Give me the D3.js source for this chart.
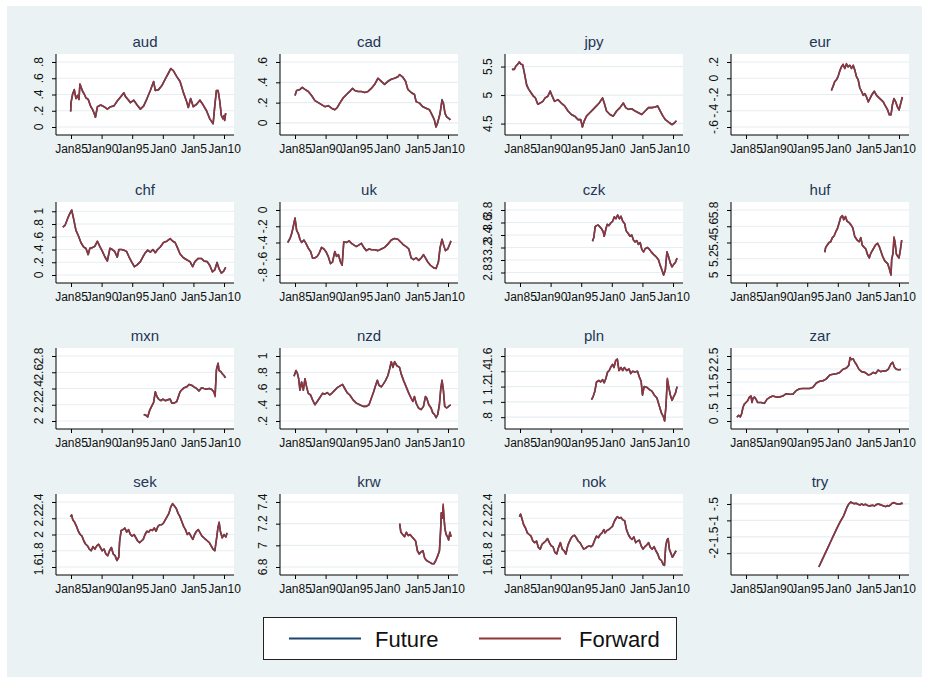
<!DOCTYPE html>
<html><head><meta charset="utf-8">
<script src="https://cdn.jsdelivr.net/npm/d3@7"></script>
<style>body{margin:0;background:#fff;} svg{display:block;font-family:"Liberation Sans",Arial,sans-serif;}</style>
</head><body><svg id="chart" width="928" height="682"></svg>
<script>
// ---------- categories / labels ----------
const currencies = ["aud","cad","jpy","eur","chf","uk","czk","huf","mxn","nzd","pln","zar","sek","krw","nok","try"];
const seriesNames = ["Future","Forward"];
const seriesColors = ["#1a476f","#90353b"];
const xTickYears = [1985,1990,1995,2000,2005,2010];
const xTickLabels = ["Jan85","Jan90","Jan95","Jan0","Jan5","Jan10"];
const xDomain = [1982.55, 2011.63];

// ---------- y ticks per panel ----------
const audTicks=[0,.2,.4,.6,.8], cadTicks=[0,.2,.4,.6], jpyTicks=[4.5,5,5.5], eurTicks=[-.6,-.4,-.2,0,.2];
const chfTicks=[0,.2,.4,.6,.8,1], ukTicks=[-.8,-.6,-.4,-.2,0], czkTicks=[2.8,3,3.2,3.4,3.6,3.8], hufTicks=[5,5.2,5.4,5.6,5.8];
const mxnTicks=[2,2.2,2.4,2.6,2.8], nzdTicks=[.2,.4,.6,.8,1], plnTicks=[.8,1,1.2,1.4,1.6], zarTicks=[0,.5,1,1.5,2,2.5];
const sekTicks=[1.6,1.8,2,2.2,2.4], krwTicks=[6.8,7,7.2,7.4], nokTicks=[1.6,1.8,2,2.2,2.4], tryTicks=[-2,-1.5,-1,-.5];

// ---------- series: [year, Future, Forward] ----------
const audData=[[1984.95,0.19,0.19],[1985.0,0.30,0.30],[1985.27,0.41,0.40],[1985.54,0.46,0.46],[1985.81,0.35,0.35],[1986.08,0.39,0.39],[1986.3,0.34,0.34],[1986.46,0.53,0.53],[1986.89,0.44,0.44],[1987.2,0.40,0.40],[1987.43,0.36,0.36],[1987.81,0.34,0.34],[1988.24,0.25,0.25],[1988.5,0.22,0.22],[1988.78,0.17,0.17],[1988.99,0.12,0.12],[1989.32,0.25,0.25],[1989.86,0.27,0.27],[1990.4,0.25,0.25],[1990.94,0.22,0.22],[1991.48,0.25,0.25],[1992.02,0.26,0.26],[1992.56,0.32,0.32],[1993.1,0.37,0.37],[1993.64,0.42,0.42],[1993.9,0.37,0.38],[1994.18,0.35,0.35],[1994.72,0.30,0.30],[1995.26,0.33,0.33],[1995.8,0.27,0.27],[1996.34,0.22,0.22],[1996.88,0.26,0.26],[1997.42,0.35,0.35],[1997.96,0.45,0.45],[1998.5,0.56,0.56],[1998.77,0.45,0.45],[1999.31,0.46,0.46],[1999.85,0.51,0.51],[2000.39,0.59,0.59],[2000.93,0.66,0.67],[2001.31,0.72,0.72],[2001.74,0.69,0.69],[2002.28,0.62,0.62],[2002.82,0.56,0.56],[2003.36,0.42,0.43],[2003.9,0.31,0.31],[2004.17,0.24,0.24],[2004.55,0.35,0.35],[2004.98,0.25,0.25],[2005.52,0.28,0.28],[2006.06,0.33,0.33],[2006.6,0.27,0.27],[2007.14,0.20,0.20],[2007.68,0.10,0.10],[2008.22,0.04,0.04],[2008.49,0.26,0.26],[2008.76,0.45,0.45],[2009.03,0.45,0.45],[2009.3,0.32,0.32],[2009.57,0.14,0.14],[2009.84,0.10,0.10],[2010.0,0.14,0.14],[2010.11,0.08,0.08],[2010.27,0.17,0.17]];
const cadData=[[1985.0,0.27,0.27],[1985.27,0.32,0.32],[1985.81,0.33,0.33],[1986.19,0.35,0.35],[1986.63,0.33,0.33],[1987.17,0.31,0.31],[1987.71,0.27,0.27],[1988.25,0.22,0.22],[1988.8,0.20,0.20],[1989.34,0.18,0.18],[1989.88,0.16,0.16],[1990.42,0.17,0.17],[1990.97,0.145,0.145],[1991.51,0.13,0.13],[1991.89,0.15,0.15],[1992.32,0.195,0.195],[1992.86,0.245,0.245],[1993.41,0.28,0.28],[1993.95,0.31,0.31],[1994.38,0.34,0.34],[1994.76,0.32,0.32],[1995.3,0.31,0.31],[1995.85,0.31,0.31],[1996.39,0.30,0.30],[1996.93,0.31,0.31],[1997.47,0.34,0.34],[1998.02,0.38,0.38],[1998.56,0.44,0.44],[1999.1,0.41,0.41],[1999.64,0.38,0.38],[2000.18,0.41,0.41],[2000.73,0.43,0.43],[2001.27,0.44,0.44],[2001.81,0.455,0.455],[2002.08,0.475,0.475],[2002.62,0.45,0.45],[2003.06,0.41,0.41],[2003.44,0.33,0.33],[2003.98,0.30,0.30],[2004.52,0.28,0.28],[2004.79,0.21,0.21],[2005.34,0.195,0.195],[2005.88,0.16,0.16],[2006.42,0.145,0.145],[2006.96,0.13,0.13],[2007.39,0.08,0.08],[2007.77,0.03,0.03],[2008.04,-0.04,-0.04],[2008.31,0.003,0.003],[2008.69,0.09,0.09],[2009.02,0.23,0.22],[2009.24,0.195,0.195],[2009.51,0.095,0.095],[2009.78,0.06,0.06],[2010.22,0.04,0.04],[2010.38,0.03,0.03]];
const jpyData=[[1983.68,5.45,5.45],[1984.07,5.45,5.45],[1984.34,5.51,5.51],[1984.62,5.54,5.54],[1984.89,5.58,5.58],[1985.16,5.54,5.54],[1985.44,5.53,5.53],[1985.71,5.39,5.39],[1986.1,5.18,5.16],[1986.43,5.10,5.10],[1986.81,5.04,5.04],[1987.19,4.98,4.98],[1987.52,4.95,4.95],[1987.91,4.84,4.84],[1988.29,4.86,4.86],[1988.73,4.89,4.89],[1989.11,4.95,4.95],[1989.55,4.98,4.98],[1989.93,5.07,5.07],[1990.26,4.98,4.98],[1990.65,4.89,4.89],[1991.2,4.92,4.92],[1991.74,4.86,4.86],[1992.29,4.81,4.81],[1992.84,4.72,4.72],[1993.39,4.66,4.66],[1993.94,4.63,4.63],[1994.48,4.57,4.57],[1994.92,4.57,4.57],[1995.2,4.44,4.44],[1995.47,4.54,4.54],[1995.86,4.63,4.63],[1996.4,4.69,4.69],[1996.95,4.75,4.75],[1997.5,4.81,4.81],[1997.94,4.86,4.86],[1998.49,4.95,4.95],[1998.76,4.86,4.86],[1999.14,4.72,4.72],[1999.69,4.66,4.66],[2000.24,4.63,4.63],[2000.79,4.72,4.72],[2001.34,4.78,4.78],[2001.89,4.86,4.86],[2002.27,4.78,4.78],[2002.71,4.75,4.75],[2003.26,4.76,4.76],[2003.8,4.72,4.72],[2004.35,4.69,4.69],[2004.9,4.66,4.66],[2005.45,4.72,4.72],[2006.0,4.78,4.78],[2006.55,4.78,4.78],[2007.09,4.79,4.79],[2007.48,4.81,4.81],[2007.92,4.72,4.72],[2008.36,4.63,4.63],[2008.74,4.57,4.57],[2009.12,4.54,4.54],[2009.45,4.51,4.51],[2009.84,4.48,4.48],[2010.22,4.51,4.51],[2010.55,4.55,4.55]];
const eurData=[[1998.95,-0.15,-0.15],[1999.22,-0.10,-0.10],[1999.5,-0.04,-0.04],[1999.77,-0.02,-0.02],[2000.04,0.02,0.02],[2000.32,0.09,0.09],[2000.59,0.14,0.14],[2000.86,0.17,0.17],[2001.14,0.12,0.12],[2001.41,0.17,0.18],[2001.68,0.14,0.14],[2001.96,0.16,0.16],[2002.23,0.12,0.12],[2002.51,0.16,0.16],[2002.78,0.10,0.10],[2003.05,0.02,0.02],[2003.33,-0.02,-0.02],[2003.6,-0.12,-0.12],[2003.87,-0.16,-0.16],[2004.15,-0.21,-0.21],[2004.42,-0.19,-0.19],[2004.69,-0.23,-0.23],[2004.97,-0.29,-0.29],[2005.24,-0.25,-0.25],[2005.51,-0.21,-0.21],[2005.95,-0.16,-0.16],[2006.33,-0.21,-0.21],[2006.88,-0.25,-0.25],[2007.43,-0.29,-0.29],[2007.7,-0.33,-0.33],[2008.14,-0.39,-0.39],[2008.41,-0.45,-0.45],[2008.69,-0.45,-0.45],[2008.91,-0.33,-0.33],[2009.18,-0.25,-0.25],[2009.45,-0.29,-0.29],[2009.73,-0.35,-0.35],[2010.0,-0.39,-0.39],[2010.27,-0.31,-0.31],[2010.55,-0.23,-0.23]];
const chfData=[[1983.65,0.75,0.75],[1984.03,0.78,0.78],[1984.35,0.86,0.86],[1984.68,0.94,0.94],[1985.11,1.02,1.02],[1985.43,0.88,0.88],[1985.81,0.70,0.70],[1986.19,0.62,0.62],[1986.62,0.51,0.51],[1987.05,0.44,0.44],[1987.43,0.42,0.42],[1987.81,0.32,0.32],[1988.08,0.42,0.42],[1988.51,0.43,0.43],[1988.89,0.45,0.45],[1989.32,0.53,0.53],[1989.7,0.45,0.45],[1990.13,0.37,0.37],[1990.51,0.29,0.29],[1990.94,0.22,0.22],[1991.37,0.42,0.42],[1991.75,0.40,0.40],[1992.13,0.37,0.37],[1992.56,0.28,0.28],[1992.83,0.40,0.40],[1993.21,0.40,0.40],[1993.64,0.39,0.39],[1994.07,0.37,0.37],[1994.45,0.29,0.29],[1994.99,0.19,0.19],[1995.37,0.13,0.13],[1995.8,0.16,0.16],[1996.34,0.21,0.21],[1996.77,0.29,0.29],[1997.15,0.35,0.35],[1997.53,0.39,0.39],[1997.96,0.36,0.36],[1998.39,0.40,0.40],[1998.77,0.35,0.35],[1999.15,0.40,0.40],[1999.58,0.44,0.44],[2000.12,0.51,0.51],[2000.66,0.53,0.53],[2001.2,0.57,0.57],[2001.63,0.53,0.53],[2002.01,0.51,0.51],[2002.39,0.43,0.43],[2002.82,0.33,0.33],[2003.36,0.27,0.27],[2003.9,0.24,0.24],[2004.44,0.21,0.21],[2004.87,0.13,0.13],[2005.25,0.21,0.21],[2005.79,0.26,0.26],[2006.33,0.26,0.26],[2006.71,0.22,0.22],[2007.25,0.21,0.21],[2007.68,0.15,0.15],[2008.1,0.05,0.05],[2008.48,0.08,0.08],[2008.86,0.20,0.19],[2009.18,0.10,0.10],[2009.56,0.03,0.03],[2009.94,0.06,0.06],[2010.27,0.12,0.12]];
const ukData=[[1983.81,-0.40,-0.40],[1984.19,-0.35,-0.35],[1984.46,-0.29,-0.29],[1984.73,-0.20,-0.20],[1985.0,-0.10,-0.10],[1985.27,-0.25,-0.25],[1985.54,-0.29,-0.29],[1985.81,-0.36,-0.36],[1986.08,-0.40,-0.40],[1986.46,-0.37,-0.37],[1986.79,-0.41,-0.41],[1987.17,-0.47,-0.47],[1987.55,-0.51,-0.51],[1987.87,-0.59,-0.59],[1988.25,-0.59,-0.59],[1988.63,-0.57,-0.57],[1988.96,-0.53,-0.53],[1989.34,-0.46,-0.46],[1989.72,-0.48,-0.48],[1990.04,-0.51,-0.51],[1990.42,-0.57,-0.57],[1990.8,-0.66,-0.66],[1991.13,-0.64,-0.64],[1991.51,-0.51,-0.51],[1991.78,-0.57,-0.57],[1992.1,-0.55,-0.55],[1992.43,-0.64,-0.64],[1992.7,-0.68,-0.68],[1992.97,-0.39,-0.39],[1993.41,-0.40,-0.40],[1993.84,-0.38,-0.38],[1994.22,-0.41,-0.41],[1994.6,-0.43,-0.43],[1995.03,-0.45,-0.45],[1995.47,-0.43,-0.43],[1995.85,-0.41,-0.41],[1996.23,-0.46,-0.46],[1996.66,-0.50,-0.50],[1997.09,-0.48,-0.48],[1997.53,-0.49,-0.49],[1998.02,-0.49,-0.49],[1998.56,-0.50,-0.50],[1999.1,-0.48,-0.48],[1999.64,-0.46,-0.46],[2000.18,-0.42,-0.42],[2000.73,-0.37,-0.37],[2001.27,-0.35,-0.35],[2001.81,-0.36,-0.36],[2002.35,-0.40,-0.40],[2002.73,-0.43,-0.43],[2003.17,-0.45,-0.45],[2003.6,-0.48,-0.48],[2003.98,-0.59,-0.59],[2004.36,-0.61,-0.61],[2004.79,-0.59,-0.59],[2005.23,-0.62,-0.62],[2005.61,-0.59,-0.59],[2005.99,-0.55,-0.55],[2006.31,-0.59,-0.59],[2006.69,-0.64,-0.64],[2007.13,-0.68,-0.68],[2007.62,-0.71,-0.71],[2008.05,-0.72,-0.72],[2008.43,-0.64,-0.64],[2008.69,-0.47,-0.47],[2009.02,-0.36,-0.36],[2009.24,-0.42,-0.42],[2009.57,-0.50,-0.50],[2009.95,-0.48,-0.48],[2010.22,-0.43,-0.43],[2010.49,-0.38,-0.38]];
const czkData=[[1996.84,3.30,3.30],[1997.06,3.36,3.36],[1997.28,3.53,3.53],[1997.5,3.55,3.55],[1997.77,3.56,3.56],[1998.05,3.53,3.53],[1998.32,3.50,3.50],[1998.6,3.45,3.45],[1998.76,3.38,3.38],[1999.04,3.50,3.50],[1999.25,3.57,3.57],[1999.53,3.55,3.55],[1999.8,3.59,3.59],[2000.13,3.62,3.62],[2000.41,3.69,3.69],[2000.68,3.66,3.66],[2000.95,3.72,3.72],[2001.23,3.66,3.66],[2001.5,3.70,3.70],[2001.78,3.62,3.62],[2002.11,3.58,3.58],[2002.32,3.47,3.47],[2002.71,3.42,3.42],[2002.98,3.38,3.38],[2003.26,3.40,3.40],[2003.53,3.32,3.32],[2003.8,3.29,3.29],[2004.08,3.31,3.31],[2004.35,3.25,3.25],[2004.63,3.28,3.28],[2004.9,3.17,3.17],[2005.18,3.13,3.13],[2005.45,3.18,3.18],[2005.83,3.20,3.20],[2006.16,3.17,3.17],[2006.44,3.13,3.13],[2006.82,3.09,3.09],[2007.26,3.05,3.05],[2007.64,3.00,3.00],[2007.92,2.91,2.91],[2008.19,2.84,2.84],[2008.46,2.76,2.76],[2008.74,2.84,2.84],[2009.01,3.13,3.13],[2009.28,3.05,3.05],[2009.56,2.95,2.95],[2009.84,2.89,2.89],[2010.11,2.93,2.93],[2010.38,2.96,2.96],[2010.66,3.03,3.03]];
const hufData=[[1997.86,5.28,5.28],[1998.02,5.34,5.34],[1998.29,5.37,5.37],[1998.57,5.40,5.40],[1998.84,5.41,5.41],[1999.11,5.46,5.46],[1999.39,5.48,5.48],[1999.66,5.53,5.53],[1999.93,5.57,5.57],[2000.21,5.64,5.64],[2000.48,5.71,5.71],[2000.76,5.73,5.73],[2000.97,5.68,5.68],[2001.25,5.72,5.72],[2001.52,5.66,5.66],[2001.79,5.65,5.65],[2002.12,5.62,5.62],[2002.45,5.58,5.58],[2002.78,5.47,5.47],[2003.16,5.43,5.43],[2003.49,5.41,5.41],[2003.76,5.46,5.46],[2003.98,5.37,5.37],[2004.31,5.34,5.34],[2004.58,5.32,5.32],[2004.86,5.25,5.25],[2005.13,5.21,5.21],[2005.4,5.27,5.27],[2005.79,5.32,5.32],[2006.17,5.37,5.37],[2006.5,5.39,5.39],[2006.77,5.35,5.35],[2007.05,5.29,5.29],[2007.32,5.23,5.23],[2007.7,5.17,5.17],[2008.14,5.14,5.14],[2008.41,5.08,5.08],[2008.69,5.00,5.00],[2008.8,5.19,5.19],[2009.02,5.27,5.27],[2009.18,5.45,5.47],[2009.34,5.41,5.41],[2009.56,5.26,5.26],[2009.78,5.23,5.23],[2010.0,5.21,5.21],[2010.22,5.31,5.31],[2010.44,5.43,5.43]];
const mxnData=[[1996.88,2.08,2.08],[1997.26,2.07,2.07],[1997.53,2.05,2.05],[1997.85,2.13,2.13],[1998.23,2.19,2.19],[1998.5,2.23,2.23],[1998.77,2.36,2.36],[1999.04,2.30,2.30],[1999.31,2.27,2.27],[1999.69,2.25,2.25],[2000.01,2.27,2.27],[2000.39,2.25,2.25],[2000.77,2.26,2.26],[2001.2,2.27,2.27],[2001.47,2.22,2.22],[2001.85,2.22,2.22],[2002.28,2.24,2.24],[2002.55,2.30,2.30],[2002.82,2.36,2.36],[2003.2,2.39,2.39],[2003.47,2.41,2.41],[2003.9,2.42,2.42],[2004.33,2.45,2.45],[2004.71,2.44,2.44],[2005.09,2.42,2.42],[2005.52,2.40,2.40],[2005.9,2.37,2.37],[2006.33,2.41,2.41],[2006.71,2.40,2.40],[2007.14,2.39,2.39],[2007.57,2.40,2.40],[2007.95,2.39,2.39],[2008.33,2.36,2.36],[2008.54,2.32,2.30],[2008.76,2.63,2.63],[2009.03,2.71,2.71],[2009.19,2.62,2.62],[2009.46,2.61,2.61],[2009.73,2.58,2.58],[2010.0,2.56,2.56],[2010.22,2.53,2.53]];
const nzdData=[[1984.84,0.75,0.75],[1985.16,0.82,0.82],[1985.38,0.79,0.79],[1985.6,0.72,0.72],[1985.81,0.58,0.58],[1986.08,0.68,0.68],[1986.36,0.58,0.58],[1986.63,0.72,0.72],[1986.9,0.62,0.62],[1987.17,0.54,0.54],[1987.55,0.52,0.52],[1987.87,0.46,0.46],[1988.25,0.40,0.40],[1988.63,0.44,0.44],[1989.07,0.49,0.49],[1989.5,0.54,0.54],[1989.88,0.53,0.53],[1990.26,0.55,0.55],[1990.69,0.52,0.52],[1991.13,0.55,0.55],[1991.51,0.58,0.58],[1991.89,0.61,0.61],[1992.32,0.63,0.63],[1992.76,0.65,0.65],[1993.13,0.60,0.60],[1993.51,0.55,0.55],[1993.95,0.52,0.52],[1994.49,0.46,0.46],[1995.03,0.42,0.42],[1995.57,0.40,0.40],[1996.12,0.38,0.38],[1996.66,0.38,0.38],[1997.09,0.40,0.40],[1997.47,0.48,0.48],[1997.85,0.56,0.56],[1998.18,0.64,0.64],[1998.45,0.70,0.70],[1998.72,0.64,0.64],[1999.1,0.62,0.62],[1999.48,0.66,0.66],[1999.8,0.70,0.70],[2000.18,0.76,0.76],[2000.46,0.84,0.84],[2000.73,0.93,0.93],[2001.0,0.86,0.86],[2001.27,0.93,0.93],[2001.65,0.88,0.88],[2002.08,0.86,0.86],[2002.35,0.78,0.78],[2002.73,0.70,0.70],[2003.17,0.62,0.62],[2003.6,0.54,0.54],[2003.98,0.48,0.48],[2004.25,0.44,0.44],[2004.52,0.50,0.50],[2004.79,0.42,0.42],[2005.17,0.36,0.36],[2005.61,0.34,0.34],[2005.99,0.38,0.38],[2006.31,0.50,0.50],[2006.53,0.48,0.48],[2006.86,0.40,0.40],[2007.23,0.36,0.36],[2007.51,0.30,0.30],[2007.78,0.28,0.28],[2008.05,0.24,0.24],[2008.32,0.28,0.28],[2008.59,0.40,0.40],[2008.81,0.60,0.58],[2009.02,0.70,0.70],[2009.24,0.58,0.58],[2009.46,0.38,0.38],[2009.78,0.36,0.36],[2010.11,0.38,0.38],[2010.43,0.40,0.40]];
const plnData=[[1996.68,1.03,1.03],[1996.95,1.07,1.07],[1997.23,1.14,1.14],[1997.5,1.26,1.26],[1997.88,1.28,1.28],[1998.16,1.26,1.26],[1998.49,1.29,1.29],[1998.76,1.25,1.25],[1999.04,1.31,1.31],[1999.31,1.39,1.39],[1999.58,1.41,1.41],[1999.86,1.46,1.46],[2000.13,1.49,1.49],[2000.35,1.45,1.45],[2000.63,1.54,1.54],[2000.9,1.56,1.56],[2001.17,1.41,1.41],[2001.5,1.45,1.45],[2001.78,1.41,1.41],[2002.05,1.45,1.45],[2002.43,1.41,1.41],[2002.82,1.43,1.43],[2003.09,1.37,1.37],[2003.42,1.40,1.40],[2003.8,1.39,1.39],[2004.19,1.40,1.40],[2004.52,1.32,1.32],[2004.79,1.27,1.27],[2005.01,1.09,1.09],[2005.28,1.20,1.20],[2005.72,1.19,1.19],[2006.16,1.16,1.16],[2006.55,1.14,1.14],[2006.93,1.09,1.09],[2007.37,1.05,1.05],[2007.75,0.95,0.95],[2008.08,0.86,0.86],[2008.46,0.80,0.80],[2008.63,0.75,0.75],[2008.85,0.95,0.95],[2009.07,1.29,1.31],[2009.29,1.20,1.20],[2009.56,1.09,1.09],[2009.84,1.02,1.02],[2010.11,1.07,1.07],[2010.38,1.11,1.11],[2010.66,1.20,1.20]];
const zarData=[[1983.52,0.14,0.14],[1983.8,0.22,0.22],[1984.07,0.16,0.16],[1984.29,0.28,0.28],[1984.51,0.53,0.53],[1984.73,0.65,0.65],[1985.0,0.71,0.71],[1985.27,0.78,0.78],[1985.55,0.92,0.92],[1985.82,0.96,0.96],[1985.98,0.71,0.71],[1986.15,0.88,0.88],[1986.37,0.92,0.92],[1986.64,0.84,0.84],[1986.91,0.71,0.71],[1987.46,0.71,0.71],[1988.01,0.68,0.68],[1988.45,0.84,0.84],[1988.83,0.90,0.90],[1989.38,0.96,0.96],[1989.92,0.92,0.92],[1990.47,0.92,0.92],[1991.02,0.96,0.96],[1991.56,1.05,1.05],[1992.11,1.03,1.03],[1992.66,1.03,1.03],[1993.21,1.17,1.17],[1993.75,1.24,1.24],[1994.3,1.25,1.25],[1994.85,1.25,1.25],[1995.39,1.25,1.25],[1995.94,1.30,1.30],[1996.49,1.46,1.46],[1997.04,1.53,1.53],[1997.58,1.55,1.55],[1998.13,1.62,1.62],[1998.68,1.77,1.77],[1999.22,1.80,1.80],[1999.77,1.82,1.82],[2000.32,1.87,1.87],[2000.86,1.99,1.99],[2001.41,2.04,2.04],[2001.79,2.14,2.14],[2002.01,2.43,2.45],[2002.23,2.36,2.36],[2002.51,2.39,2.39],[2002.78,2.26,2.26],[2003.05,2.17,2.17],[2003.44,1.99,1.99],[2003.87,1.90,1.90],[2004.42,1.87,1.87],[2004.97,1.77,1.77],[2005.41,1.80,1.80],[2005.79,1.87,1.87],[2006.17,1.83,1.83],[2006.61,1.96,1.96],[2006.99,1.90,1.90],[2007.43,1.92,1.92],[2007.81,1.92,1.92],[2008.25,1.99,1.99],[2008.69,2.20,2.20],[2008.96,2.26,2.26],[2009.23,2.08,2.08],[2009.56,1.99,1.99],[2009.89,1.97,1.97],[2010.33,1.98,1.98]];
const sekData=[[1984.9,2.22,2.22],[1985.1,2.24,2.24],[1985.3,2.18,2.18],[1985.6,2.15,2.15],[1985.9,2.10,2.10],[1986.2,2.04,2.04],[1986.5,2.00,2.00],[1986.8,1.98,1.98],[1987.1,1.92,1.92],[1987.4,1.88,1.88],[1987.7,1.86,1.86],[1988.0,1.82,1.82],[1988.3,1.80,1.80],[1988.6,1.85,1.85],[1988.9,1.82,1.82],[1989.2,1.86,1.86],[1989.5,1.88,1.88],[1989.8,1.84,1.84],[1990.1,1.80,1.80],[1990.4,1.82,1.82],[1990.7,1.76,1.76],[1991.0,1.74,1.74],[1991.3,1.80,1.80],[1991.6,1.84,1.84],[1991.9,1.76,1.76],[1992.2,1.74,1.74],[1992.5,1.68,1.68],[1992.8,1.72,1.72],[1992.95,1.92,1.92],[1993.2,2.05,2.05],[1993.5,2.06,2.06],[1993.8,2.08,2.08],[1994.1,2.03,2.03],[1994.4,2.06,2.06],[1994.7,2.00,2.00],[1995.0,1.98,1.98],[1995.3,2.00,2.00],[1995.6,1.96,1.96],[1995.9,1.92,1.92],[1996.2,1.90,1.90],[1996.5,1.92,1.92],[1996.8,1.94,1.94],[1997.1,2.00,2.00],[1997.4,2.04,2.04],[1997.7,2.03,2.03],[1998.0,2.06,2.06],[1998.3,2.05,2.05],[1998.6,2.08,2.08],[1998.9,2.04,2.04],[1999.2,2.10,2.10],[1999.5,2.12,2.12],[1999.8,2.12,2.12],[2000.1,2.14,2.14],[2000.4,2.18,2.18],[2000.7,2.22,2.22],[2001.0,2.26,2.26],[2001.3,2.34,2.34],[2001.6,2.38,2.38],[2001.9,2.35,2.35],[2002.2,2.32,2.32],[2002.5,2.26,2.26],[2002.8,2.22,2.22],[2003.1,2.16,2.16],[2003.4,2.10,2.10],[2003.7,2.06,2.06],[2004.0,2.00,2.00],[2004.3,2.02,2.02],[2004.6,1.98,1.98],[2004.9,1.94,1.94],[2005.2,2.00,2.00],[2005.5,2.04,2.04],[2005.8,2.06,2.06],[2006.1,2.02,2.02],[2006.4,1.98,1.98],[2006.7,1.96,1.96],[2007.0,1.94,1.94],[2007.3,1.92,1.92],[2007.6,1.90,1.90],[2007.9,1.86,1.86],[2008.2,1.82,1.82],[2008.5,1.80,1.80],[2008.8,1.96,1.96],[2009.0,2.08,2.08],[2009.2,2.15,2.15],[2009.4,2.04,2.04],[2009.7,1.96,1.96],[2010.0,2.00,2.00],[2010.3,1.97,1.97],[2010.5,2.02,2.02]];
const krwData=[[2002.1,7.20,7.20],[2002.3,7.12,7.12],[2002.6,7.10,7.10],[2002.9,7.08,7.08],[2003.2,7.12,7.12],[2003.5,7.09,7.09],[2003.8,7.10,7.10],[2004.1,7.08,7.08],[2004.4,7.06,7.06],[2004.7,7.04,7.04],[2005.0,6.95,6.95],[2005.3,6.92,6.92],[2005.6,6.94,6.94],[2005.9,6.95,6.95],[2006.2,6.88,6.88],[2006.5,6.86,6.86],[2006.8,6.85,6.85],[2007.1,6.84,6.84],[2007.4,6.83,6.83],[2007.7,6.83,6.83],[2008.0,6.86,6.86],[2008.3,6.90,6.90],[2008.6,6.95,6.95],[2008.8,7.15,7.15],[2008.9,7.30,7.30],[2009.1,7.25,7.25],[2009.2,7.36,7.38],[2009.35,7.25,7.25],[2009.5,7.15,7.15],[2009.7,7.10,7.10],[2009.9,7.08,7.08],[2010.1,7.05,7.05],[2010.3,7.12,7.12],[2010.5,7.08,7.08]];
const nokData=[[1984.9,2.22,2.22],[1985.1,2.25,2.25],[1985.3,2.20,2.20],[1985.6,2.12,2.12],[1985.9,2.08,2.08],[1986.2,2.02,2.02],[1986.5,2.00,2.00],[1986.8,1.98,1.98],[1987.1,1.92,1.92],[1987.4,1.90,1.90],[1987.7,1.92,1.92],[1988.0,1.84,1.84],[1988.3,1.82,1.82],[1988.6,1.88,1.88],[1988.9,1.90,1.90],[1989.2,1.92,1.92],[1989.5,1.95,1.95],[1989.8,1.90,1.90],[1990.1,1.86,1.86],[1990.4,1.85,1.85],[1990.7,1.78,1.78],[1991.0,1.76,1.76],[1991.3,1.84,1.84],[1991.6,1.90,1.90],[1991.9,1.82,1.82],[1992.2,1.80,1.80],[1992.5,1.76,1.76],[1992.8,1.86,1.86],[1993.0,1.90,1.90],[1993.3,1.95,1.95],[1993.6,1.98,1.98],[1993.9,1.99,1.99],[1994.2,1.96,1.96],[1994.5,1.92,1.92],[1994.8,1.90,1.90],[1995.1,1.86,1.86],[1995.4,1.82,1.82],[1995.7,1.83,1.83],[1996.0,1.85,1.85],[1996.3,1.86,1.86],[1996.6,1.85,1.85],[1996.9,1.87,1.87],[1997.2,1.93,1.93],[1997.5,1.98,1.98],[1997.8,1.96,1.96],[1998.1,2.00,2.00],[1998.4,2.02,2.02],[1998.7,2.06,2.06],[1998.9,2.02,2.02],[1999.2,2.05,2.05],[1999.5,2.06,2.06],[1999.8,2.08,2.08],[2000.1,2.10,2.10],[2000.4,2.16,2.16],[2000.7,2.20,2.20],[2000.9,2.22,2.22],[2001.2,2.20,2.20],[2001.5,2.21,2.21],[2001.8,2.18,2.18],[2002.1,2.17,2.17],[2002.4,2.06,2.06],[2002.7,2.00,2.00],[2003.0,1.96,1.96],[2003.3,1.94,1.94],[2003.6,1.97,1.97],[2003.9,1.90,1.90],[2004.2,1.92,1.92],[2004.5,1.93,1.93],[2004.8,1.86,1.86],[2005.1,1.82,1.82],[2005.4,1.85,1.85],[2005.7,1.87,1.87],[2006.0,1.90,1.90],[2006.3,1.84,1.84],[2006.6,1.82,1.82],[2006.9,1.85,1.85],[2007.2,1.80,1.80],[2007.5,1.76,1.76],[2007.8,1.70,1.70],[2008.1,1.68,1.68],[2008.4,1.63,1.63],[2008.6,1.62,1.62],[2008.8,1.85,1.85],[2009.0,1.93,1.93],[2009.2,1.95,1.95],[2009.4,1.82,1.82],[2009.7,1.76,1.76],[2009.9,1.72,1.72],[2010.2,1.76,1.76],[2010.5,1.80,1.80]];
const tryData=[[1996.9,-2.42,-2.42],[1997.4,-2.22,-2.22],[1997.9,-2.02,-2.02],[1998.4,-1.82,-1.82],[1998.9,-1.62,-1.62],[1999.4,-1.42,-1.42],[1999.9,-1.22,-1.22],[2000.4,-1.04,-1.04],[2000.9,-0.88,-0.88],[2001.2,-0.74,-0.74],[2001.5,-0.60,-0.60],[2001.8,-0.50,-0.50],[2002.1,-0.44,-0.44],[2002.4,-0.47,-0.47],[2002.7,-0.49,-0.49],[2003.0,-0.48,-0.48],[2003.3,-0.51,-0.51],[2003.6,-0.53,-0.53],[2003.9,-0.50,-0.50],[2004.2,-0.53,-0.53],[2004.5,-0.51,-0.51],[2004.8,-0.54,-0.54],[2005.1,-0.56,-0.56],[2005.4,-0.55,-0.55],[2005.7,-0.54,-0.54],[2006.0,-0.56,-0.56],[2006.3,-0.52,-0.52],[2006.6,-0.50,-0.50],[2006.9,-0.52,-0.52],[2007.2,-0.54,-0.54],[2007.5,-0.56,-0.56],[2007.8,-0.58,-0.58],[2008.1,-0.55,-0.55],[2008.4,-0.56,-0.56],[2008.7,-0.51,-0.51],[2008.9,-0.47,-0.47],[2009.2,-0.46,-0.46],[2009.5,-0.49,-0.49],[2009.8,-0.50,-0.50],[2010.1,-0.51,-0.51],[2010.4,-0.48,-0.48],[2010.6,-0.49,-0.49]];

// ---------- table built from the arrays ----------
const panels = [
  {name:"aud",data:audData,ticks:audTicks},{name:"cad",data:cadData,ticks:cadTicks},{name:"jpy",data:jpyData,ticks:jpyTicks},{name:"eur",data:eurData,ticks:eurTicks},
  {name:"chf",data:chfData,ticks:chfTicks},{name:"uk",data:ukData,ticks:ukTicks},{name:"czk",data:czkData,ticks:czkTicks},{name:"huf",data:hufData,ticks:hufTicks},
  {name:"mxn",data:mxnData,ticks:mxnTicks},{name:"nzd",data:nzdData,ticks:nzdTicks},{name:"pln",data:plnData,ticks:plnTicks},{name:"zar",data:zarData,ticks:zarTicks},
  {name:"sek",data:sekData,ticks:sekTicks},{name:"krw",data:krwData,ticks:krwTicks},{name:"nok",data:nokData,ticks:nokTicks},{name:"try",data:tryData,ticks:tryTicks}
];

// ---------- layout ----------
const colLeft=[56,280,505,731], rowTop=[54,202,348,494], PW=178, PH=81, PAD=8;
const svg=d3.select("#chart");
svg.append("rect").attr("width",928).attr("height",682).attr("fill","#ffffff");
svg.append("rect").attr("x",7).attr("y",6).attr("width",915).attr("height",671).attr("fill","#eaf2f3");

const fmt = v => { const s = String(+v.toFixed(2)); return s.replace(/^(-?)0\./,"$1."); };

panels.forEach((p,i)=>{
  const left=colLeft[i%4], top=rowTop[Math.floor(i/4)], bottom=top+PH;
  const vals=p.data.flatMap(d=>[d[1],d[2]]).concat(p.ticks);
  const x=d3.scaleLinear().domain(xDomain).range([left,left+PW]);
  const y=d3.scaleLinear().domain(d3.extent(vals)).range([bottom-PAD,top+PAD]);
  const g=svg.append("g");
  g.append("rect").attr("x",left).attr("y",top).attr("width",PW).attr("height",PH).attr("fill","#ffffff");
  g.selectAll(".grid").data(p.ticks).join("line")
    .attr("x1",left).attr("x2",left+PW).attr("y1",d=>y(d)).attr("y2",d=>y(d))
    .attr("stroke","#e6eef1").attr("stroke-width",1.2);
  [1,2].forEach(k=>{
    const line=d3.line().x(d=>x(d[0])).y(d=>y(d[k]));
    g.append("path").datum(p.data).attr("d",line).attr("fill","none")
      .attr("stroke",seriesColors[k-1]).attr("stroke-width",1.6).attr("stroke-linejoin","round");
  });
  const ya=g.append("g").attr("transform",`translate(${left},0)`)
    .call(d3.axisLeft(y).tickValues(p.ticks).tickSize(4).tickFormat(""));
  ya.select(".domain").attr("d",`M0,${top}V${bottom}`).attr("stroke","#000");
  ya.selectAll(".tick line").attr("stroke","#000");
  g.selectAll(".ylab").data(p.ticks).join("text")
    .attr("transform",d=>`translate(${left-13},${y(d)}) rotate(-90)`)
    .attr("text-anchor","middle").attr("font-size",12).attr("fill","#111").text(fmt);
  const xa=g.append("g").attr("transform",`translate(0,${bottom})`)
    .call(d3.axisBottom(x).tickValues(xTickYears).tickSize(4).tickFormat((d,j)=>xTickLabels[j]));
  xa.select(".domain").attr("d",`M${left},0H${left+PW}`).attr("stroke","#000");
  xa.selectAll(".tick line").attr("stroke","#000");
  xa.selectAll(".tick text").attr("font-size",12).attr("fill","#111").attr("font-family","Liberation Sans, Arial, sans-serif").attr("y",9.5).attr("dy","0.71em");
  svg.append("text").attr("x",left+PW/2).attr("y",top-7).attr("text-anchor","middle")
    .attr("font-size",15).attr("fill","#1f3557").text(p.name);
});

// ---------- legend ----------
const lg=svg.append("g");
lg.append("rect").attr("x",263.5).attr("y",617.5).attr("width",413).attr("height",42).attr("fill","#fff").attr("stroke","#222");
const legX=[[289,361,375],[479,561,579]];
seriesNames.forEach((n,k)=>{
  lg.append("line").attr("x1",legX[k][0]).attr("x2",legX[k][1]).attr("y1",638.5).attr("y2",638.5)
    .attr("stroke",seriesColors[k]).attr("stroke-width",2);
  lg.append("text").attr("x",legX[k][2]).attr("y",646.5).attr("font-size",22).attr("fill","#111").text(n);
});
</script></body></html>
